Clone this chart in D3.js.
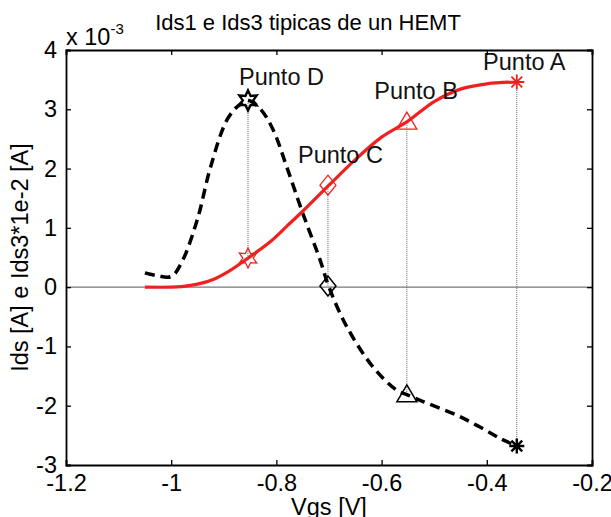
<!DOCTYPE html>
<html>
<head>
<meta charset="utf-8">
<script src="https://cdn.jsdelivr.net/npm/d3@7"></script>
<style>
body { margin: 0; background: #fff; }
text { font-family: "Liberation Sans", Arial, sans-serif; }
</style>
</head>
<body>
<svg id="chart" width="611" height="517"></svg>
<script>
// Ids1 (red, solid) in units of 1e-3 A
var ids1Vgs = [-1.05, -1.00, -0.98, -0.95, -0.92, -0.89, -0.854, -0.81, -0.78, -0.75, -0.70, -0.65, -0.60, -0.55, -0.50, -0.45, -0.40, -0.343];
var ids1Val = [0.0, 0.0, 0.01, 0.05, 0.13, 0.27, 0.49, 0.78, 1.03, 1.28, 1.72, 2.15, 2.53, 2.80, 3.13, 3.34, 3.43, 3.46];

// Ids3*1e-2 (black, dashed)
var ids3Vgs = [-1.05, -1.03, -1.00, -0.98, -0.95, -0.926, -0.894, -0.87, -0.854, -0.83, -0.806, -0.78, -0.75, -0.717, -0.70, -0.666, -0.616, -0.571, -0.55, -0.521, -0.457, -0.413, -0.375, -0.343];
var ids3Val = [0.24, 0.20, 0.18, 0.42, 1.15, 2.0, 2.82, 3.08, 3.15, 3.0, 2.65, 2.02, 1.25, 0.46, 0.0, -0.67, -1.35, -1.74, -1.82, -1.93, -2.16, -2.36, -2.55, -2.68];

// marked points A, B, C, D
var markNames = ["Punto A", "Punto B", "Punto C", "Punto D"];
var markVgs = [-0.343, -0.552, -0.702, -0.854];
var markIds1 = [3.46, 2.80, 1.72, 0.49];
var markIds3 = [-2.68, -1.80, 0.02, 3.15];
var markShapes = ["asterisk", "triangle", "diamond", "hexagram"];
var labelVgs = [-0.407, -0.614, -0.759, -0.871];
var labelVal = [3.66, 3.17, 2.09, 3.41];

var xTicks = [-1.2, -1, -0.8, -0.6, -0.4, -0.2];
var yTicks = [-3, -2, -1, 0, 1, 2, 3, 4];

var svg = d3.select("#chart");
var padL = 66, padR = 592, padT = 50, padB = 465;
var fs = 23.5;

var x = d3.scaleLinear().domain([-1.2, -0.2]).range([padL, padR]);
var y = d3.scaleLinear().domain([-3, 4]).range([padB, padT]);

var red = "#f02020";

// zero line
svg.append("line")
	.attr("x1", x(-1.2)).attr("x2", x(-0.2))
	.attr("y1", y(0)).attr("y2", y(0))
	.attr("stroke", "#777").attr("stroke-width", 1.2);

// dotted verticals between markers
svg.selectAll(".drop")
	.data(markVgs)
	.enter()
	.append("line")
	.attr("class", "drop")
	.attr("x1", function(d) {return x(d);})
	.attr("x2", function(d) {return x(d);})
	.attr("y1", function(d, i) {return y(markIds1[i]);})
	.attr("y2", function(d, i) {return y(markIds3[i]);})
	.attr("stroke", "#666")
	.attr("stroke-width", 1)
	.attr("stroke-dasharray", "1,1");

var line = d3.line()
	.x(function(d) {return x(d[0]);})
	.y(function(d) {return y(d[1]);})
	.curve(d3.curveCatmullRom.alpha(0.5));

svg.append("path")
	.datum(d3.zip(ids3Vgs, ids3Val))
	.attr("d", line)
	.attr("fill", "none")
	.attr("stroke", "#000")
	.attr("stroke-width", 3.5)
	.attr("stroke-dasharray", "10,6");

svg.append("path")
	.datum(d3.zip(ids1Vgs, ids1Val))
	.attr("d", line)
	.attr("fill", "none")
	.attr("stroke", red)
	.attr("stroke-width", 3.2);

// marker shapes (MATLAB-like)
var shapePath = function(shape){
	var p = d3.path();
	if(shape == "asterisk"){
		var r = 7.5, k = r * 0.72;
		p.moveTo(-r, 0); p.lineTo(r, 0);
		p.moveTo(0, -r); p.lineTo(0, r);
		p.moveTo(-k, -k); p.lineTo(k, k);
		p.moveTo(-k, k); p.lineTo(k, -k);
	} else if(shape == "triangle"){
		p.moveTo(0, -9); p.lineTo(10, 8); p.lineTo(-10, 8); p.closePath();
	} else if(shape == "diamond"){
		p.moveTo(0, -10); p.lineTo(8, 0); p.lineTo(0, 10); p.lineTo(-8, 0); p.closePath();
	} else {
		var ro = 10, ri = 5.2;
		for(var i=0; i<12; i++){
			var a = -Math.PI/2 + i*Math.PI/6;
			var rr = (i%2==0) ? ro : ri;
			if(i==0) p.moveTo(rr*Math.cos(a), rr*Math.sin(a));
			else p.lineTo(rr*Math.cos(a), rr*Math.sin(a));
		}
		p.closePath();
	}
	return p.toString();
}

svg.selectAll(".mark1")
	.data(markVgs)
	.enter()
	.append("path")
	.attr("class", "mark1")
	.attr("transform", function(d, i) {return "translate(" + x(d) + "," + y(markIds1[i]) + ")";})
	.attr("d", function(d, i) {return shapePath(markShapes[i]);})
	.attr("fill", "none")
	.attr("stroke", red)
	.attr("stroke-width", function(d, i) {return markShapes[i]=="asterisk" ? 1.8 : 1.3;});

svg.selectAll(".mark3")
	.data(markVgs)
	.enter()
	.append("path")
	.attr("class", "mark3")
	.attr("transform", function(d, i) {return "translate(" + x(d) + "," + y(markIds3[i]) + ")";})
	.attr("d", function(d, i) {return shapePath(markShapes[i]);})
	.attr("fill", "none")
	.attr("stroke", "#000")
	.attr("stroke-width", function(d, i) {return (markShapes[i]=="hexagram" || markShapes[i]=="asterisk") ? 2.4 : 1.5;});

// point labels
svg.selectAll(".lbl")
	.data(markNames)
	.enter()
	.append("text")
	.attr("class", "lbl")
	.attr("x", function(d, i) {return x(labelVgs[i]);})
	.attr("y", function(d, i) {return y(labelVal[i]);})
	.attr("font-size", fs)
	.attr("fill", "#111")
	.text(function(d) {return d;});

// axes box with inward ticks
var axB = d3.axisBottom(x).tickValues(xTicks).tickSize(-5).tickPadding(10);
var axT = d3.axisTop(x).tickValues(xTicks).tickSize(-5).tickFormat("");
var axL = d3.axisLeft(y).tickValues(yTicks).tickSize(-5).tickPadding(9);
var axR = d3.axisRight(y).tickValues(yTicks).tickSize(-5).tickFormat("");

var gB = svg.append("g").attr("transform", "translate(0," + padB + ")").call(axB);
var gT = svg.append("g").attr("transform", "translate(0," + padT + ")").call(axT);
var gL = svg.append("g").attr("transform", "translate(" + padL + ",0)").call(axL);
var gR = svg.append("g").attr("transform", "translate(" + padR + ",0)").call(axR);

[gB, gT, gL, gR].forEach(function(g){
	g.select(".domain").attr("stroke", "#000").attr("stroke-width", 1.8);
	g.selectAll(".tick line").attr("stroke", "#000").attr("stroke-width", 1.3);
	g.selectAll(".tick text")
		.attr("font-size", fs)
		.attr("font-family", "Liberation Sans, Arial, sans-serif")
		.attr("fill", "#000")
		.text(function(d) {return d3.format("~g")(d).replace("\u2212", "-");});
});
gT.selectAll(".tick text").remove();
gR.selectAll(".tick text").remove();
gB.selectAll(".tick text").attr("dy", "0.68em");

// exponent
var ex = svg.append("text").attr("x", 66).attr("y", 45).attr("font-size", fs).attr("fill", "#000");
ex.append("tspan").text("x 10");
ex.append("tspan").attr("dy", -11).attr("font-size", 15).text("-3");

// title and axis labels
svg.append("text")
	.attr("x", 308).attr("y", 30)
	.attr("text-anchor", "middle").attr("font-size", 22).attr("fill", "#000")
	.text("Ids1 e Ids3 tipicas de un HEMT");

svg.append("text")
	.attr("x", 329).attr("y", 515)
	.attr("text-anchor", "middle").attr("font-size", fs).attr("fill", "#000")
	.text("Vgs [V]");

svg.append("text")
	.attr("transform", "translate(28," + ((padT + padB) / 2) + ") rotate(-90)")
	.attr("text-anchor", "middle").attr("font-size", fs).attr("fill", "#000")
	.text("Ids [A] e Ids3*1e-2 [A]");
</script>
</body>
</html>
